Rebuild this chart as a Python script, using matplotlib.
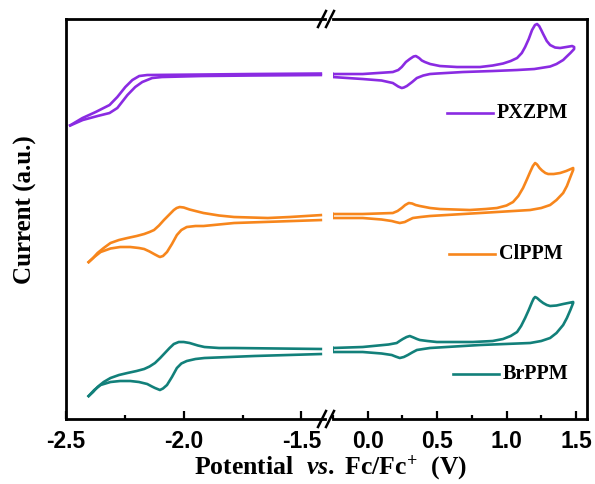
import matplotlib
matplotlib.use("Agg")
import matplotlib.pyplot as plt
from matplotlib.ticker import MultipleLocator
from matplotlib.lines import Line2D

# --------------------------------------------------
# DATA  (potential in V vs Fc/Fc+, current in a.u.)
# --------------------------------------------------

# PXZPM, reduction window
pxz_red_up_v = [-2.487, -2.43, -2.374, -2.315, -2.282, -2.248, -2.218, -2.189, -2.155,
                -1.924, -1.714, -1.412]
pxz_red_up_i = [29.3, 30.1, 30.7, 31.4, 32.2, 33.2, 33.9, 34.3, 34.4,
                34.45, 34.5, 34.55]
pxz_red_lo_v = [-2.487, -2.429, -2.366, -2.315, -2.282, -2.239, -2.206, -2.176, -2.134,
                -2.092, -1.924, -1.714, -1.412]
pxz_red_lo_i = [29.3, 29.9, 30.3, 30.6, 31.1, 32.4, 33.2, 33.7, 34.1,
                34.2, 34.3, 34.35, 34.4]

# PXZPM, oxidation window
pxz_ox_up_v = [-0.253, -0.036, 0.181, 0.22, 0.245, 0.275, 0.303, 0.33, 0.347, 0.37,
               0.39, 0.412, 0.45, 0.52, 0.643, 0.809, 0.9, 0.975, 1.03, 1.076,
               1.11, 1.134, 1.16, 1.184, 1.205, 1.22, 1.235, 1.25, 1.264, 1.29,
               1.314, 1.35, 1.386, 1.43, 1.473, 1.487]
pxz_ox_up_i = [34.5, 34.5, 34.7, 34.9, 35.2, 35.7, 36.0, 36.25, 36.3, 36.1,
               35.85, 35.7, 35.5, 35.3, 35.2, 35.2, 35.35, 35.55, 35.8, 36.1,
               36.6, 37.2, 38.0, 38.9, 39.4, 39.5, 39.3, 38.9, 38.5, 37.8,
               37.4, 37.15, 37.1, 37.2, 37.3, 37.2]
pxz_ox_lo_v = [1.487, 1.46, 1.43, 1.408, 1.36, 1.314, 1.2, 1.076, 0.9, 0.686,
               0.5, 0.448, 0.4, 0.354, 0.32, 0.282, 0.26, 0.245, 0.22, 0.181,
               0.1, -0.036, -0.253]
pxz_ox_lo_i = [37.0, 36.6, 36.2, 35.9, 35.5, 35.25, 35.0, 34.9, 34.8, 34.7,
               34.55, 34.5, 34.35, 34.1, 33.7, 33.3, 33.15, 33.1, 33.25, 33.6,
               33.85, 34.0, 34.2]

# ClPPM, reduction window
cl_red_up_v = [-2.408, -2.385, -2.366, -2.34, -2.311, -2.275, -2.239, -2.2, -2.168,
               -2.145, -2.126, -2.105, -2.084, -2.063, -2.042, -2.03, -2.017, -2.0,
               -1.975, -1.95, -1.916, -1.85, -1.786, -1.643, -1.55, -1.412]
cl_red_up_i = [15.6, 16.1, 16.6, 17.1, 17.6, 17.9, 18.1, 18.3, 18.5,
               18.7, 18.9, 19.35, 19.9, 20.4, 20.9, 21.1, 21.2, 21.15,
               20.95, 20.8, 20.6, 20.35, 20.2, 20.1, 20.2, 20.4]
cl_red_lo_v = [-2.408, -2.38, -2.353, -2.311, -2.27, -2.227, -2.19, -2.168, -2.145,
               -2.126, -2.11, -2.101, -2.088, -2.071, -2.05, -2.029, -2.01, -1.987,
               -1.95, -1.916, -1.786, -1.412]
cl_red_lo_i = [15.6, 16.2, 16.7, 17.05, 17.2, 17.2, 17.1, 17.0, 16.75,
               16.5, 16.3, 16.2, 16.3, 16.7, 17.5, 18.4, 18.9, 19.2,
               19.3, 19.3, 19.6, 19.9]

# ClPPM, oxidation window
cl_ox_up_v = [-0.253, -0.036, 0.181, 0.215, 0.245, 0.27, 0.296, 0.32, 0.345, 0.375,
              0.45, 0.52, 0.736, 0.85, 0.931, 1.0, 1.047, 1.085, 1.119, 1.145,
              1.17, 1.19, 1.206, 1.22, 1.238, 1.256, 1.28, 1.3, 1.34, 1.386,
              1.43, 1.48]
cl_ox_up_i = [20.5, 20.5, 20.6, 20.8, 21.1, 21.4, 21.6, 21.55, 21.4, 21.3,
              21.1, 21.0, 20.9, 21.0, 21.1, 21.35, 21.7, 22.3, 23.1, 23.9,
              24.7, 25.3, 25.6, 25.45, 25.1, 24.85, 24.6, 24.5, 24.5, 24.6,
              24.8, 25.1]
cl_ox_lo_v = [1.48, 1.46, 1.435, 1.408, 1.36, 1.314, 1.25, 1.17, 0.809, 0.448,
              0.38, 0.325, 0.295, 0.267, 0.231, 0.2, 0.173, 0.1, -0.036, -0.253]
cl_ox_lo_i = [24.9, 24.2, 23.3, 22.6, 21.9, 21.4, 21.1, 20.9, 20.6, 20.3,
              20.2, 20.1, 19.9, 19.7, 19.6, 19.7, 19.8, 19.95, 20.1, 20.1]

# BrPPM, reduction window
br_red_up_v = [-2.408, -2.385, -2.366, -2.34, -2.311, -2.275, -2.239, -2.2, -2.168,
               -2.145, -2.122, -2.1, -2.08, -2.06, -2.042, -2.021, -2.0, -1.975,
               -1.94, -1.912, -1.85, -1.786, -1.6, -1.412]
br_red_up_i = [2.2, 2.7, 3.2, 3.7, 4.1, 4.4, 4.6, 4.8, 5.0,
               5.25, 5.6, 6.1, 6.6, 7.1, 7.5, 7.7, 7.7, 7.6,
               7.35, 7.2, 7.1, 7.1, 7.05, 7.0]
br_red_lo_v = [-2.408, -2.38, -2.353, -2.311, -2.27, -2.227, -2.19, -2.155, -2.135,
               -2.122, -2.101, -2.088, -2.071, -2.05, -2.029, -2.01, -1.987, -1.95,
               -1.912, -1.7, -1.412]
br_red_lo_i = [2.2, 2.9, 3.4, 3.7, 3.8, 3.8, 3.7, 3.5, 3.25,
               3.1, 2.9, 3.05, 3.4, 4.2, 5.1, 5.55, 5.8, 6.0,
               6.1, 6.3, 6.5]

# BrPPM, oxidation window
br_ox_up_v = [-0.253, -0.036, 0.15, 0.209, 0.23, 0.253, 0.28, 0.303, 0.33, 0.355,
              0.375, 0.43, 0.498, 0.758, 0.9, 0.975, 1.03, 1.076, 1.105, 1.134,
              1.16, 1.184, 1.196, 1.206, 1.22, 1.24, 1.264, 1.29, 1.314, 1.36,
              1.408, 1.48]
br_ox_up_i = [7.1, 7.2, 7.45, 7.6, 7.8, 8.0, 8.2, 8.3, 8.15, 8.0,
              7.9, 7.8, 7.7, 7.7, 7.8, 8.0, 8.3, 8.7, 9.3, 10.1,
              10.9, 11.7, 12.05, 12.2, 12.1, 11.85, 11.6, 11.4, 11.3, 11.35,
              11.5, 11.7]
br_ox_lo_v = [1.48, 1.46, 1.435, 1.408, 1.36, 1.314, 1.25, 1.17, 0.809, 0.448,
              0.4, 0.354, 0.32, 0.289, 0.26, 0.231, 0.2, 0.173, 0.1, -0.036, -0.253]
br_ox_lo_i = [11.6, 10.9, 10.1, 9.4, 8.6, 8.1, 7.8, 7.6, 7.4, 7.1,
              7.0, 6.9, 6.65, 6.4, 6.2, 6.1, 6.25, 6.4, 6.55, 6.7, 6.7]

names = ["PXZPM", "ClPPM", "BrPPM"]
colors = ["#8a2be2", "#f7861c", "#12807a"]

left_ticks = [-2.5, -2.0, -1.5]
right_ticks = [0.0, 0.5, 1.0, 1.5]

# --------------------------------------------------
# FIGURE
# --------------------------------------------------

plt.rcParams["mathtext.fontset"] = "custom"
plt.rcParams["mathtext.rm"] = "Liberation Serif:bold"
plt.rcParams["mathtext.it"] = "Liberation Serif:italic:bold"
plt.rcParams["mathtext.bf"] = "Liberation Serif:bold"

fig = plt.figure(figsize=(5.95, 4.84), dpi=100)
ax1 = fig.add_axes([0.1109, 0.1343, 0.4353, 0.8264])
ax2 = fig.add_axes([0.5597, 0.1343, 0.4269, 0.8264])

red = [(pxz_red_up_v, pxz_red_up_i, pxz_red_lo_v, pxz_red_lo_i),
       (cl_red_up_v, cl_red_up_i, cl_red_lo_v, cl_red_lo_i),
       (br_red_up_v, br_red_up_i, br_red_lo_v, br_red_lo_i)]
ox = [(pxz_ox_up_v, pxz_ox_up_i, pxz_ox_lo_v, pxz_ox_lo_i),
      (cl_ox_up_v, cl_ox_up_i, cl_ox_lo_v, cl_ox_lo_i),
      (br_ox_up_v, br_ox_up_i, br_ox_lo_v, br_ox_lo_i)]

LW = 1.9

for (uv, ui, lv, li), c in zip(red, colors):
    ax1.plot(uv, ui, color=c, lw=LW, solid_joinstyle="round", solid_capstyle="butt")
    ax1.plot(lv, li, color=c, lw=LW, solid_joinstyle="round", solid_capstyle="butt")

# oxidation loops are closed at the low-potential end
for (uv, ui, lv, li), c in zip(ox, colors):
    ax2.plot(uv + lv + uv[:1], ui + li + ui[:1], color=c, lw=LW,
             solid_joinstyle="round")

for ax in (ax1, ax2):
    ax.set_ylim(0, 40)
    ax.set_yticks([])
    ax.tick_params(axis="x", direction="in", length=6, width=1.6, pad=8)
    ax.tick_params(axis="x", which="minor", direction="in", length=3, width=1.6)
    for s in ax.spines.values():
        s.set_linewidth(2.0)

ax1.set_xlim(-2.49, -1.40)
ax2.set_xlim(-0.25, 1.58)
ax1.set_xticks(left_ticks)
ax2.set_xticks(right_ticks)
ax1.xaxis.set_minor_locator(MultipleLocator(0.25))
ax2.xaxis.set_minor_locator(MultipleLocator(0.25))
ax1.set_xticklabels([f"{t:.1f}" for t in left_ticks], fontfamily="Liberation Sans",
                    fontweight="bold", fontsize=16.5)
ax2.set_xticklabels([f"{t:.1f}" for t in right_ticks], fontfamily="Liberation Sans",
                    fontweight="bold", fontsize=16.5)

ax1.spines["right"].set_visible(False)
ax2.spines["left"].set_visible(False)

# break marks
for xc in (322 / 595, 330 / 595):
    for yc in (1 - 19 / 484, 1 - 419 / 484):
        fig.add_artist(Line2D([xc - 4 / 595, xc + 4 / 595], [yc - 8 / 484, yc + 8 / 484],
                              color="black", lw=1.8))

# legend entries
leg_y = [0.765, 0.4125, 0.1125]
leg_x0 = [0.449, 0.457, 0.472]
for name, c, y, x0 in zip(names, colors, leg_y, leg_x0):
    ax2.plot([x0, x0 + 0.18], [y, y], color=c, lw=LW, transform=ax2.transAxes)
    ax2.text(x0 + 0.195, y, name, transform=ax2.transAxes, va="center", ha="left",
             fontfamily="Liberation Serif", fontweight="bold", fontsize=14.5)

fig.text(0.555, 0.033, r"$\mathrm{Potential}\ \ \mathit{vs}.\ \mathrm{Fc/Fc}^{+}\ \ \mathrm{(V)}$",
         ha="center", va="center", fontsize=18.5)
fig.text(0.042, 0.566, "Current (a.u.)", rotation=90, ha="center", va="center",
         fontfamily="Liberation Serif", fontweight="bold", fontsize=18)

fig.savefig("out.png", dpi=100)
